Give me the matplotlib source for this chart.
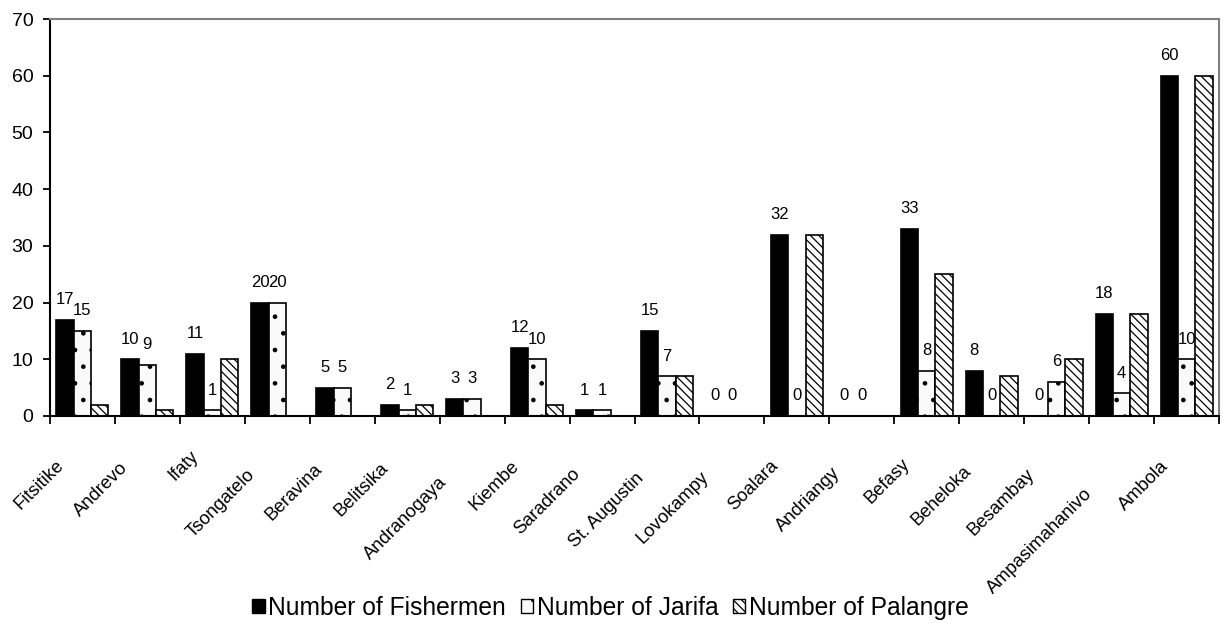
import numpy as np
import matplotlib
matplotlib.use("Agg")
import matplotlib.pyplot as plt
from matplotlib.patches import Patch
from matplotlib.transforms import ScaledTranslation

# Data
villages = ['Fitsitike', 'Andrevo', 'Ifaty', 'Tsongatelo', 'Beravina', 'Belitsika',
            'Andranogaya', 'Kiembe', 'Saradrano', 'St. Augustin', 'Lovokampy', 'Soalara',
            'Andriangy', 'Befasy', 'Beheloka', 'Besambay', 'Ampasimahanivo', 'Ambola']
fishermen = [17, 10, 11, 20, 5, 2, 3, 12, 1, 15, 0, 32, 0, 33, 8, 0, 18, 60]
jarifa = [15, 9, 1, 20, 5, 1, 3, 10, 1, 7, 0, 0, 0, 8, 0, 6, 4, 10]
palangre = [2, 1, 10, 0, 0, 2, 0, 2, 0, 7, 0, 32, 0, 25, 7, 10, 18, 60]

plt.rcParams['font.family'] = ['Liberation Sans', 'DejaVu Sans']
plt.rcParams['hatch.linewidth'] = 0.9

fig = plt.figure(figsize=(12.27, 6.27), dpi=100)
ax = fig.add_axes([50 / 1227, 1 - 416 / 627, 1169 / 1227, 397 / 627])

x = np.arange(len(villages))
bw = 0.267
dots = '.'
stripes = '\\\\\\\\'

b1 = ax.bar(x - bw, fishermen, width=bw, color='black', edgecolor='black', linewidth=1.2)
b2 = ax.bar(x, jarifa, width=bw, color='#fafafa', edgecolor='black', linewidth=1.2, hatch=dots)
b3 = ax.bar(x + bw, palangre, width=bw, color='white', edgecolor='black', linewidth=1.2, hatch=stripes)

# value labels for fishermen and jarifa only
for bars, vals in [(b1, fishermen), (b2, jarifa)]:
    for rect, v in zip(bars, vals):
        ax.annotate(str(v), (rect.get_x() + rect.get_width() / 2, v),
                    xytext=(0, 14.5), textcoords='offset points',
                    ha='center', va='center', fontsize=12)

ax.set_xlim(-0.5, len(villages) - 0.5)
ax.set_ylim(0, 70)
ax.set_yticks(range(0, 71, 10))
ax.tick_params(axis='y', direction='out', length=5, width=1.3, labelsize=14, pad=7)

# category boundaries get the tick marks, centres carry the names
ax.set_xticks(np.arange(-0.5, len(villages), 1), minor=True)
ax.set_xticks(x)
ax.set_xticklabels(villages, rotation=45, ha='right', va='center',
                   rotation_mode='anchor', fontsize=13.2,
                   family=['Liberation Sans Narrow', 'Liberation Sans'])
ax.tick_params(axis='x', which='major', length=0, pad=27)
ax.tick_params(axis='x', which='minor', direction='out', length=6, width=1.3)

# longer names sit a little further down and to the left
fig.canvas.draw()
labels = ax.get_xticklabels()
widths = [lbl.get_window_extent().width for lbl in labels]
w0 = min(widths)
for lbl, w in zip(labels, widths):
    extra = w - w0
    dx = (-17 - 0.2 * extra) / 100
    dy = (-0.5 * extra) / 100
    lbl.set_transform(lbl.get_transform() + ScaledTranslation(dx, dy, fig.dpi_scale_trans))

for side in ['left', 'bottom']:
    ax.spines[side].set_linewidth(1.5)
    ax.spines[side].set_color('black')
for side in ['top', 'right']:
    ax.spines[side].set_linewidth(1.5)
    ax.spines[side].set_color('#808080')

handles = [
    Patch(facecolor='black', edgecolor='black', label='Number of Fishermen'),
    Patch(facecolor='#fafafa', edgecolor='black', hatch=dots, label='Number of Jarifa'),
    Patch(facecolor='white', edgecolor='black', hatch=stripes, label='Number of Palangre'),
]
fig.legend(handles=handles, loc='center', bbox_to_anchor=(0.4976, 0.031), ncol=3,
           frameon=False, fontsize=17.7, handlelength=0.5, handleheight=0.5,
           handletextpad=0.15, columnspacing=0.6, borderpad=0.1)

plt.savefig('out.png', dpi=100)
